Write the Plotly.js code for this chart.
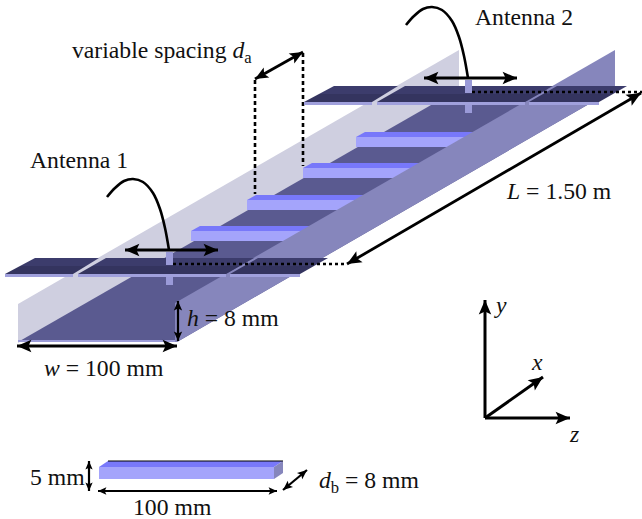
<!DOCTYPE html>
<html><head><meta charset="utf-8">
<script src="https://cdn.plot.ly/plotly-3.0.1.min.js"></script>
<style>html,body{margin:0;padding:0;background:#fff}#c{width:642px;height:519px}</style>
</head><body><div id="c"></div>
<script>
const W=642,H=519;
// waveguide outline
const backWall=[[18,304],[459,50],[459,90],[18,343]];
const floorPlate=[[18,342],[177,342],[615,89],[459,89]];
const floorEdge=[[18,340],[176,340],[176,342],[18,342]];
const rightWall=[[175,303],[615,50],[615,89],[177,342],[175,342]];
// post bars: front-left x, front top y
const barX=[356,303,247,191];
const barY=[137,168,200,231];
const barLen=150, barH=10, barDepth=5, barSkew=9;
// antenna offsets
const antDX=[0,299], antDY=[0,-172];
const patchA=[[5,274],[73,274],[99,258],[35,258]];
const patchB=[[78,274],[226,274],[254,258],[106,258]];
const patchC=[[230,274],[300,274],[328,258],[258,258]];
const pinUp=[[166,252],[173,252],[173,265],[166,265]];
const pinDown=[[166,276],[173,276],[173,285],[166,285]];
const curve=[[107,197],[115,188],[124,181],[133,179],[143,182],[153,193],[160,209],[165,228],[169,250]];
const antArrow=[[125,250],[218,250]];
const dotted=[[[173,264],[347,264]],[[472,92],[642,92]]];
const dashed=[[[255,80],[255,194]],[[303,53],[303,166]]];
// small post
const smallFront=[[99,467],[274,467],[274,479],[99,479]];
const smallTop=[[99,467],[274,467],[283,461],[108,461]];
const smallSide=[[274,467],[283,461],[283,473],[274,479]];
// double arrows
const doubleArrows=[
 [[255,79],[303,52],11],[[347,264],[641,93],12],[[178,301],[178,341],8],[[17,346],[177,346],12],
 [[89,461],[89,491],7],[[98,491],[277,491],7],[[283,490],[307,470],8]
];
const singleArrows=[[[485,418],[485,300],12],[[485,418],[570,418],12],[[485,418],[543,377],12]];
const labels=[
 ["Antenna 1",79,160,23.7],["Antenna 2",524,17,23.7],
 ["variable spacing <i>d</i><sub>a</sub>",162,52,23.7],
 ["<i>L</i> = 1.50 m",559,191,23.7],["<i>h</i> = 8 mm",233,318,23.7],
 ["<i>w</i> = 100 mm",104,368,23.7],["5 mm",57,477,23.7],["100 mm",172,507,23.7],
 ["<i>d</i><sub>b</sub> = 8 mm",369,482,23.7],
 ["<i>y</i>",500,305,23.7],["<i>x</i>",537,362,23.7],["<i>z</i>",574,434,23.7]
];
const C={wall:"#cfcfe0",floor:"#5a5a90",edge:"#9c9cd8",right:"#8686bc",front:"#a4a4fb",top:"#7878fa",
 patch:"#34345f",patchHi:"#3c3c6c",strip:"#a0a0dc",pin:"#9a9ad8",ink:"#000"};

const traces=[];
function poly(p,c){traces.push({x:p.map(q=>q[0]).concat(p[0][0]),y:p.map(q=>q[1]).concat(p[0][1]),mode:"lines",fill:"toself",fillcolor:c,line:{width:0,color:c},hoverinfo:"skip",showlegend:false});}
function line(p,w,dash,shape){traces.push({x:p.map(q=>q[0]),y:p.map(q=>q[1]),mode:"lines",line:{width:w,color:C.ink,dash:dash||"solid",shape:shape||"linear",smoothing:1},hoverinfo:"skip",showlegend:false});}
function head(tip,from,s){
 const dx=tip[0]-from[0],dy=tip[1]-from[1],l=Math.hypot(dx,dy),u=dx/l,v=dy/l;
 const w=s*0.52;
 poly([tip,[tip[0]-u*s*1.2-v*w,tip[1]-v*s*1.2+u*w],[tip[0]-u*s*0.95,tip[1]-v*s*0.95],[tip[0]-u*s*1.2+v*w,tip[1]-v*s*1.2-u*w]],C.ink);
}
function dbl(a){const s=a[2];line([a[0],a[1]],s>9?2.8:2.2);head(a[1],a[0],s);head(a[0],a[1],s);}
function sgl(a){line([a[0],a[1]],3);head(a[1],a[0],a[2]);}
function shift(p,i){return p.map(q=>[q[0]+antDX[i],q[1]+antDY[i]]);}

poly(backWall,C.wall);
poly(floorPlate,C.floor);
poly(floorEdge,C.edge);
dashed.forEach(d=>line(d,2.6,"4px,3px"));
barX.forEach((x,i)=>{const y=barY[i];
 poly([[x,y],[x+barLen,y],[x+barLen+barSkew,y-barDepth],[x+barSkew,y-barDepth]],C.top);
 poly([[x,y],[x+barLen,y],[x+barLen,y+barH],[x,y+barH]],C.front);
});
poly(rightWall,C.right);
[0,1].forEach(i=>{
 poly(shift(pinDown,i),C.pin);
 [patchA,patchB,patchC].forEach(p=>{
  const q=shift(p,i);
  const mid=(q[0][1]+q[3][1])/2;
  const lx=q[0][0]+(q[0][1]-mid)*(q[3][0]-q[0][0])/(q[0][1]-q[3][1]);
  const rx=q[1][0]+(q[1][1]-mid)*(q[2][0]-q[1][0])/(q[1][1]-q[2][1]);
  poly([q[0],q[1],[rx,mid],[lx,mid]],C.patch);
  poly([[lx,mid],[rx,mid],q[2],q[3]],C.patchHi);
  poly([q[0],q[1],[q[1][0],q[1][1]+3],[q[0][0],q[0][1]+3]],C.strip);
 });
 poly(shift(pinUp,i),C.pin);
 line(shift(curve,i),2.6,"solid","spline");
 dbl([shift(antArrow,i)[0],shift(antArrow,i)[1],12]);
});
dotted.forEach(d=>line(d,2.6,"3px,3px"));
doubleArrows.forEach(dbl);
singleArrows.forEach(sgl);
poly(smallTop,C.top);poly(smallFront,C.front);poly(smallSide,C.right);
line([smallTop[3],smallTop[2]],1);
const axis=r=>({range:r,visible:false,fixedrange:true,autorange:false});
Plotly.newPlot("c",traces,{
 width:W,height:H,margin:{l:0,r:0,t:0,b:0},paper_bgcolor:"#fff",plot_bgcolor:"#fff",showlegend:false,
 xaxis:axis([0,W]),yaxis:axis([H,0]),
 annotations:labels.map(l=>({text:l[0],x:l[1],y:l[2],xref:"x",yref:"y",showarrow:false,xanchor:"center",yanchor:"middle",
  font:{family:"Liberation Serif",size:l[3],color:"#111"}}))
},{displayModeBar:false,staticPlot:true});
</script></body></html>
